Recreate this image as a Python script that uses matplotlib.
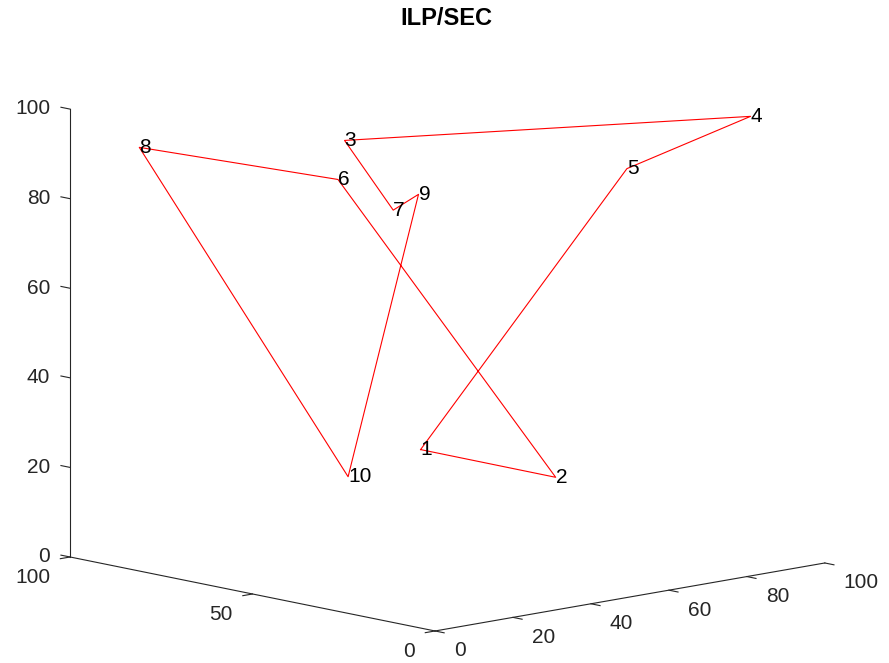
import matplotlib.pyplot as plt
from mpl_toolkits.mplot3d import proj3d

# city coordinates
labels = ['1', '2', '3', '4', '5', '6', '7', '8', '9', '10']
xs = [30, 45, 47, 95, 82, 50, 52, 14, 51, 32]
ys = [36, 15, 75, 15, 35, 80, 67, 96, 59, 58]
zs = [30, 25, 90, 98, 85, 80, 75, 90, 80, 20]
# visiting order of the tour (1-based city numbers)
tour = [1, 2, 6, 8, 10, 9, 7, 3, 4, 5, 1]

x_ticks = [0, 20, 40, 60, 80, 100]
y_ticks = [0, 50, 100]
z_ticks = [0, 20, 40, 60, 80, 100]

AX_COLOR = '#262626'
FONT = 'Liberation Sans'


def axis_line(ax, x, y, z):
    ax.plot(x, y, z, color=AX_COLOR, lw=0.8, clip_on=False)


def label3d(ax, x, y, z, s, **kw):
    # put a 2d annotation at the projected position of a 3d point
    u, v, _ = proj3d.proj_transform(x, y, z, ax.get_proj())
    ax.annotate(s, (u, v), xycoords='data', annotation_clip=False,
                fontsize=15, family=FONT, va='center', **kw)


def draw_axes(ax):
    # axis lines like matlab's box-off 3d view
    axis_line(ax, [0, 100], [0, 0], [0, 0])
    axis_line(ax, [0, 0], [0, 100], [0, 0])
    axis_line(ax, [0, 0], [100, 100], [0, 100])

    for t in x_ticks:
        axis_line(ax, [t, t], [0, -2.5], [0, 0])
        label3d(ax, t, -5.2, -3.6, str(t), ha='left', color=AX_COLOR)
    for t in y_ticks:
        axis_line(ax, [0, -2.5], [t, t], [0, 0])
        label3d(ax, -5.1, t, -3.9, str(t), ha='right', color=AX_COLOR)
    for t in z_ticks:
        axis_line(ax, [0, 0], [100, 102.5], [t, t])
        label3d(ax, -5.1, 100, t + 0.8, str(t), ha='right', color=AX_COLOR)


def tour_plot():
    fig = plt.figure(figsize=(8.89, 6.63), dpi=100)
    ax = fig.add_axes([107 / 889, -13.5 / 663, 663 / 889, 1],
                      projection='3d', proj_type='ortho')
    ax.view_init(elev=10.84, azim=-132.85)
    ax.set_box_aspect((531.8, 536.7, 456.1), zoom=1.292)
    ax.set_xlim(0, 100)
    ax.set_ylim(0, 100)
    ax.set_zlim(0, 100)
    ax.set_axis_off()

    draw_axes(ax)

    px = [xs[i - 1] for i in tour]
    py = [ys[i - 1] for i in tour]
    pz = [zs[i - 1] for i in tour]
    ax.plot(px, py, pz, color='red', lw=0.8, clip_on=False)

    for i in range(len(labels)):
        label3d(ax, xs[i], ys[i], zs[i], labels[i], ha='left', color='black')

    fig.text(446 / 889, 1 - 18.5 / 663, 'ILP/SEC', ha='center', va='center',
             fontsize=17, fontweight='bold', family=FONT)
    fig.savefig('out.png', dpi=100)


if __name__ == '__main__':
    tour_plot()
